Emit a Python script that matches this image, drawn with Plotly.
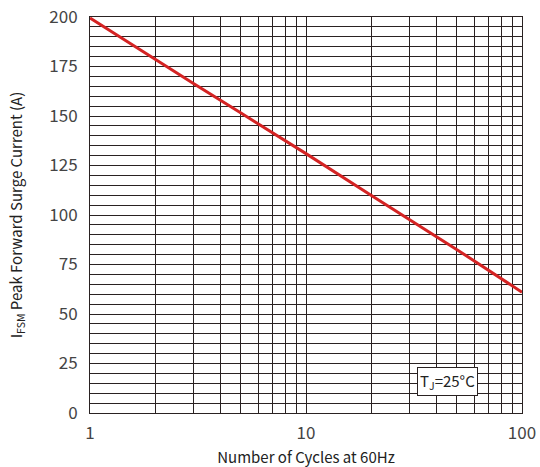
import plotly.graph_objects as go

cycles = [1, 2, 3, 5, 10, 20, 30, 50, 100]
surge_current = [199.5, 178.5, 166.5, 151.5, 131, 110, 98, 82.5, 61]

x_grid = [1, 2, 3, 4, 5, 6, 7, 8, 9, 10, 20, 30, 40, 50, 60, 70, 80, 90, 100]
x_labels = ["1" if v == 1 else "10" if v == 10 else "100" if v == 100 else "" for v in x_grid]
y_grid = list(range(0, 201, 5))
y_labels = [str(v) if v % 25 == 0 else "" for v in y_grid]

FONT = "Noto Sans CJK SC"
grid_col = "#2a2222"
font_col = "#444444"

fig = go.Figure()
fig.add_trace(go.Scatter(x=cycles, y=surge_current, mode="lines",
                         line=dict(color="#d42323", width=3), showlegend=False,
                         hoverinfo="skip"))

fig.update_xaxes(type="log", range=[0, 2], tickvals=x_grid, ticktext=x_labels,
                 automargin=False, ticklabeloverflow="allow",
                 showgrid=True, gridcolor=grid_col, gridwidth=1,
                 showline=True, linecolor=grid_col, linewidth=1, mirror=True,
                 ticks="outside", ticklen=5, tickcolor="rgba(0,0,0,0)",
                 tickfont=dict(size=17, color=font_col, family=FONT),
                 title=dict(text="Number of Cycles at 60Hz",
                            font=dict(size=15, color="#222", family=FONT), standoff=9))
fig.update_yaxes(range=[0, 200], tickvals=y_grid, ticktext=y_labels,
                 automargin=False, ticklabeloverflow="allow",
                 showgrid=True, gridcolor=grid_col, gridwidth=1, zeroline=False,
                 showline=True, linecolor=grid_col, linewidth=1, mirror=True,
                 ticks="outside", ticklen=8, tickcolor="rgba(0,0,0,0)",
                 tickfont=dict(size=17, color=font_col, family=FONT),
                 title=dict(text="I<sub>FSM</sub> Peak Forward Surge Current (A)",
                            font=dict(size=15, color="#222", family=FONT), standoff=23))

fig.add_annotation(x=1.655, y=16, xref="x", yref="y",
                   text="T<sub>J</sub>=25°C", showarrow=False,
                   font=dict(size=15, color="#222", family=FONT),
                   bgcolor="white", bordercolor=grid_col, borderwidth=1, borderpad=2)

fig.update_layout(width=540, height=467, margin=dict(l=90, r=18, t=17, b=54),
                  plot_bgcolor="white", paper_bgcolor="white", hovermode=False)
fig.write_html("out.html", config={"displayModeBar": False, "staticPlot": True},
               post_script="document.body.style.margin='0';document.body.style.overflow='hidden';")
